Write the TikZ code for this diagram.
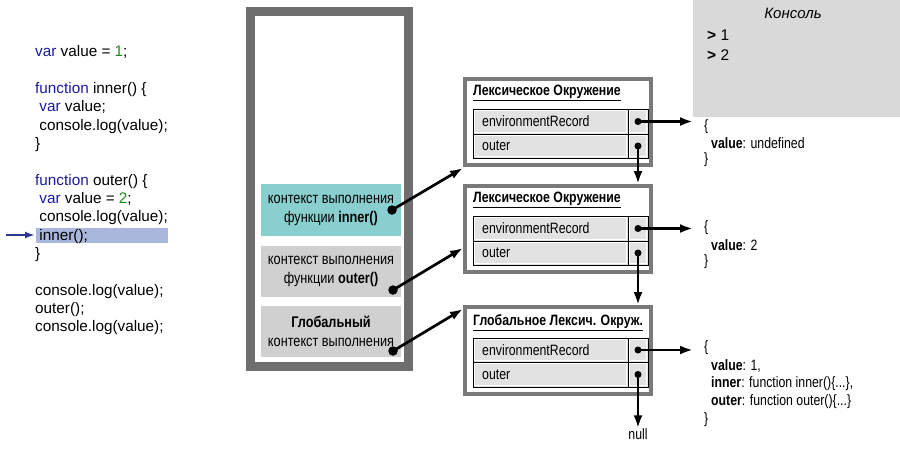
\documentclass[tikz,border=0pt]{standalone}
\usepackage{fontspec}
\setmainfont{Liberation Sans}
\newfontfamily\nar[FakeStretch=0.82]{Liberation Sans}
\usetikzlibrary{arrows.meta}
\definecolor{kw}{HTML}{1A1AA0}
\definecolor{num}{HTML}{1E8A1E}
\definecolor{hl}{HTML}{A9B7DD}
\definecolor{arrblue}{HTML}{2B3990}
\definecolor{stackgray}{HTML}{6E6E6E}
\definecolor{envgray}{HTML}{7A7A7A}
\definecolor{ctxteal}{HTML}{8ACFCF}
\definecolor{ctxgray}{HTML}{D0D0D0}
\definecolor{cellgray}{HTML}{E2E2E2}
\definecolor{consgray}{HTML}{D9D9D9}
\tikzset{
  code/.style={anchor=base west, inner sep=0pt, font=\fontsize{15.3}{18}\selectfont},
  ctx/.style={inner sep=0pt, align=center, font=\nar\fontsize{15.5}{19}\selectfont},
  envbox/.style={draw=envgray, line width=4pt},
  envtitle/.style={anchor=west, inner sep=0pt, font=\nar\bfseries\fontsize{15}{18}\selectfont},
  cell/.style={draw=black, line width=0.8pt, fill=cellgray},
  cellin/.style={draw=white, line width=0.8pt},
  celltxt/.style={anchor=west, inner sep=0pt, font=\nar\fontsize{15}{18}\selectfont},
  dot/.style={circle, fill=black, inner sep=0pt, minimum size=9.5pt},
  sdot/.style={circle, fill=black, inner sep=0pt, minimum size=7pt},
  ptr/.style={line width=2.7pt, -{Latex[length=13pt,width=9pt]}},
  obj/.style={anchor=west, inner sep=0pt, font=\nar\fontsize{15}{18}\selectfont},
}
\begin{document}
\begin{tikzpicture}[x=1pt,y=-1pt]
\useasboundingbox (0,0) rectangle (900,448);
% code
\fill[hl] (36,228) rectangle (168,243);
\node[code] (c1) at (35,56) {\textcolor{kw}{var} value = \textcolor{num}{1};};
\node[code] (c2) at (35,93) {\textcolor{kw}{function} inner() \{};
\node[code] (c3) at (35,111) {\ \textcolor{kw}{var} value;};
\node[code] (c4) at (35,130) {\ console.log(value);};
\node[code] (c5) at (35,148) {\}};
\node[code] (c6) at (35,185) {\textcolor{kw}{function} outer() \{};
\node[code] (c7) at (35,203) {\ \textcolor{kw}{var} value = \textcolor{num}{2};};
\node[code] (c8) at (35,221) {\ console.log(value);};
\node[code] (c9) at (35,240) {\ inner();};
\node[code] (c10) at (35,258) {\}};
\node[code] (c11) at (35,295) {console.log(value);};
\node[code] (c12) at (35,313) {outer();};
\node[code] (c13) at (35,331) {console.log(value);};
\coordinate (ca) at (6,235);
\coordinate (cb) at (35,235);
\draw[arrblue, line width=2.4pt, -{Latex[length=10pt,width=7pt]}] (ca) -- (cb);
% stack
\draw[stackgray, line width=9pt] (250.5,11.5) rectangle (408.5,366.5);
\node[ctx, fill=ctxteal, minimum width=140pt, minimum height=52pt] (ctxi) at (331,210) {контекст выполнения\\функции \textbf{inner()}};
\node[ctx, fill=ctxgray, minimum width=140pt, minimum height=51pt] (ctxo) at (331,271.5) {контекст выполнения\\функции \textbf{outer()}};
\node[ctx, fill=ctxgray, minimum width=140pt, minimum height=51pt] (ctxg) at (331,331.5) {\textbf{Глобальный}\\контекст выполнения};
\node[dot] (di) at (392,210) {};
\node[dot] (do) at (393,290) {};
\node[dot] (dg) at (393,351) {};
% env boxes
\draw[envbox] (465,79) rectangle (651,165);
\draw[envbox] (465,186) rectangle (651,272);
\draw[envbox] (465,307) rectangle (651,394);
\coordinate (e1) at (463,168);
\coordinate (e2) at (463,248);
\coordinate (e3) at (463,309);
\draw[ptr] (di.center) -- (e1);
\draw[ptr] (do.center) -- (e2);
\draw[ptr] (dg.center) -- (e3);
\node[envtitle] (t1) at (473,93) {\underline{Лексическое Окружение}};
\node[envtitle] (t2) at (473,200) {\underline{Лексическое Окружение}};
\node[envtitle] (t3) at (473,323) {\underline{Глобальное Лексич. Окруж.}};
% rows
\foreach \i/\a/\b/\c in {1/109/134/158, 2/216/241/265, 3/338/362/387}{
  \draw[cell] (473,\a) rectangle (628,\b);
  \draw[cell] (628,\a) rectangle (648,\b);
  \draw[cell] (473,\b) rectangle (628,\c);
  \draw[cell] (628,\b) rectangle (648,\c);
  \draw[cellin] (474.5,\a+1.5) rectangle (626.5,\b-1.5);
  \draw[cellin] (629.5,\a+1.5) rectangle (646.5,\b-1.5);
  \draw[cellin] (474.5,\b+1.5) rectangle (626.5,\c-1.5);
  \draw[cellin] (629.5,\b+1.5) rectangle (646.5,\c-1.5);
}
\node[celltxt] at (482,121.5) {environmentRecord};
\node[celltxt] at (482,146) {outer};
\node[celltxt] at (482,228.5) {environmentRecord};
\node[celltxt] at (482,253) {outer};
\node[celltxt] at (482,350) {environmentRecord};
\node[celltxt] at (482,374.5) {outer};
\node[sdot] (r1) at (638,121.5) {};
\node[sdot] (o1) at (638,146) {};
\node[sdot] (r2) at (638,228.5) {};
\node[sdot] (o2) at (638,253) {};
\node[sdot] (r3) at (638,350) {};
\node[sdot] (o3) at (638,374.5) {};
\coordinate (v1) at (693,121.5);
\coordinate (v2) at (693,228.5);
\coordinate (v3) at (693,350);
\coordinate (b2) at (638,184);
\coordinate (b3) at (638,305);
\draw[ptr] (r1.center) -- (v1);
\draw[ptr] (r2.center) -- (v2);
\draw[ptr] (r3.center) -- (v3);
\draw[ptr] (o1.center) -- (b2);
\draw[ptr] (o2.center) -- (b3);
\node[obj, anchor=center] (nul) at (638,434) {null};
\draw[ptr] (o3.center) -- (nul.north);
% console
\fill[consgray] (693,0) rectangle (900,117);
\node[inner sep=0pt, font=\itshape\fontsize{15}{18}\selectfont] (cons) at (793,13) {Консоль};
\node[anchor=west, inner sep=0pt, font=\fontsize{15.5}{18}\selectfont] (l1) at (707,35) {\textbf{>} 1};
\node[anchor=west, inner sep=0pt, font=\fontsize{15.5}{18}\selectfont] (l2) at (707,55) {\textbf{>} 2};
% objects
\node[obj] at (704,127) {\{};
\node[obj] at (711,143) {\textbf{value}: undefined};
\node[obj] at (704,160) {\}};
\node[obj] at (704,228) {\{};
\node[obj] at (711,245) {\textbf{value}: 2};
\node[obj] at (704,262) {\}};
\node[obj] at (704,348) {\{};
\node[obj] at (711,366) {\textbf{value}: 1,};
\node[obj] at (711,384) {\textbf{inner}: function inner()\{...\},};
\node[obj] at (711,402) {\textbf{outer}: function outer()\{...\}};
\node[obj] at (704,420) {\}};
\end{tikzpicture}
\end{document}
